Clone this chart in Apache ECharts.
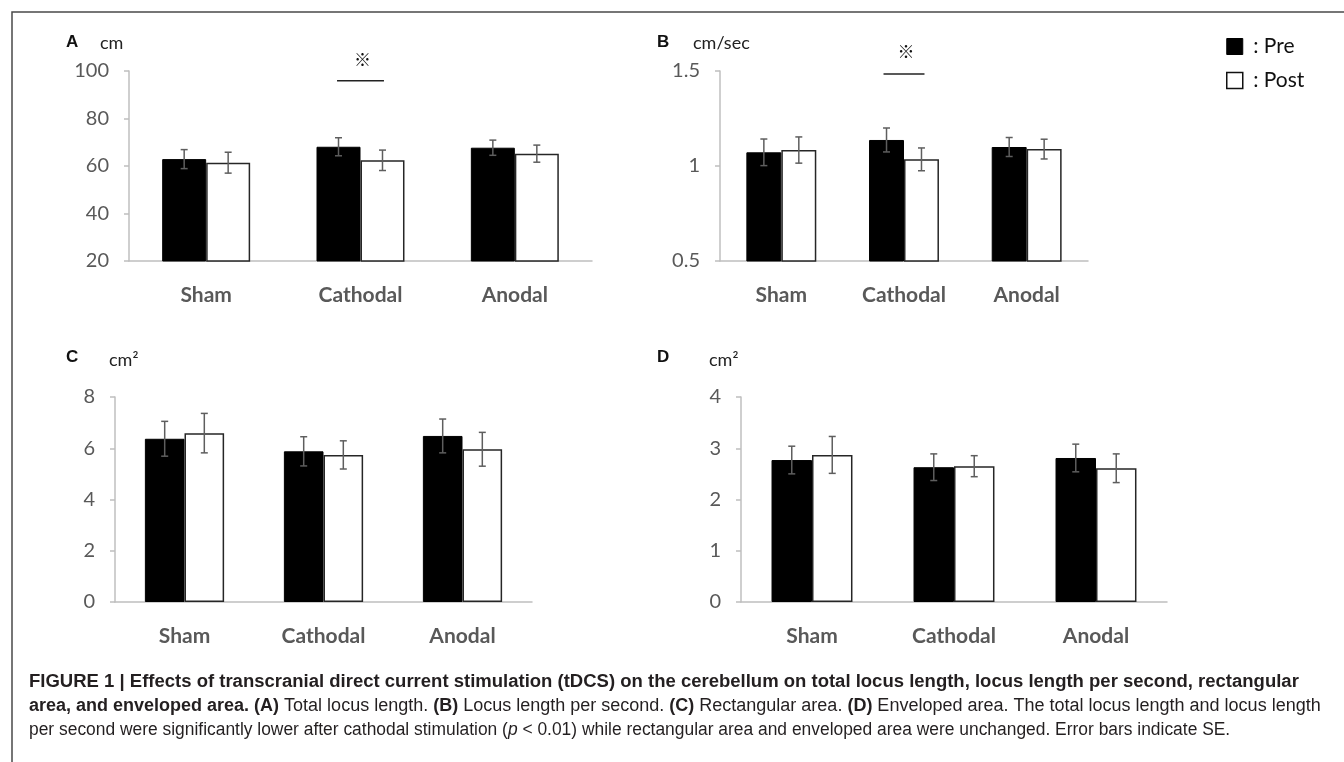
<!DOCTYPE html>
<html><head><meta charset="utf-8">
<script src="https://cdn.jsdelivr.net/npm/echarts@6/dist/echarts.min.js"></script>
<style>html,body{margin:0;padding:0;background:#fff}#c{width:1344px;height:762px}</style>
</head><body><div id="c"></div><script>
const categories = ['Sham', 'Cathodal', 'Anodal'];
const seriesNames = ['Pre', 'Post'];
// (A) Total locus length, cm
const preA = [62.9, 68.1, 67.7];
const postA = [61.4, 62.4, 65.2];
const preErrA = [4.0, 3.8, 3.2];
const postErrA = [4.4, 4.3, 3.6];
const ticksA = [20, 40, 60, 80, 100];
// (B) Locus length per second, cm/sec
const preB = [1.072, 1.137, 1.100];
const postB = [1.084, 1.035, 1.089];
const preErrB = [0.070, 0.063, 0.050];
const postErrB = [0.069, 0.060, 0.052];
const ticksB = [0.5, 1, 1.5];
// (C) Rectangular area, cm2
const preC = [6.37, 5.88, 6.48];
const postC = [6.59, 5.74, 5.96];
const preErrC = [0.68, 0.57, 0.66];
const postErrC = [0.77, 0.55, 0.66];
const ticksC = [0, 2, 4, 6, 8];
// (D) Enveloped area, cm2
const preD = [2.77, 2.63, 2.81];
const postD = [2.87, 2.65, 2.61];
const preErrD = [0.27, 0.26, 0.27];
const postErrD = [0.36, 0.205, 0.28];
const ticksD = [0, 1, 2, 3, 4];
// significance bars: [category index, value of bar line]
const sigA = [[1, 95.9]];
const sigB = [[1, 1.484]];
const panelLetters = ['A', 'B', 'C', 'D'];
const unitLabels = ['cm', 'cm/sec', 'cm²', 'cm²'];
const captionLines = [
  'FIGURE 1 | Effects of transcranial direct current stimulation (tDCS) on the cerebellum on total locus length, locus length per second, rectangular',
  '{b|area, and enveloped area. (A)} Total locus length. {b|(B)} Locus length per second. {b|(C)} Rectangular area. {b|(D)} Enveloped area. The total locus length and locus length',
  'per second were significantly lower after cathodal stimulation ({i|p} < 0.01) while rectangular area and enveloped area were unchanged. Error bars indicate SE.'
];

const GAP = 0.43;
const ERR = '#5e5e5e';
const AXIS = '#bfbfbf';
const LABEL = '#595959';

const panels = [
  { grid: {left: 129, top: 71, width: 463, height: 190}, pre: preA, post: postA, pe: preErrA, qe: postErrA, ticks: ticksA, sig: sigA, sigHalf: 0.152, sigDy: 21 },
  { grid: {left: 720, top: 71, width: 368, height: 190}, pre: preB, post: postB, pe: preErrB, qe: postErrB, ticks: ticksB, sig: sigB, sigHalf: 0.167, sigDy: 22 },
  { grid: {left: 115, top: 397, width: 417, height: 205}, pre: preC, post: postC, pe: preErrC, qe: postErrC, ticks: ticksC, sig: null },
  { grid: {left: 741, top: 397, width: 426, height: 205}, pre: preD, post: postD, pe: preErrD, qe: postErrD, ticks: ticksD, sig: null }
];

function errSeries(gi, vals, errs, side) {
  return {
    type: 'custom', xAxisIndex: gi, yAxisIndex: gi, z: 5, silent: true,
    data: vals.map((v, i) => [i, v, errs[i]]),
    encode: {x: 0, y: 1},
    renderItem(params, api) {
      const i = api.value(0), v = api.value(1), e = api.value(2);
      const band = api.size([1, 0])[0];
      const off = side * band * (1 - GAP) / 4;
      const top = api.coord([i, v + e]);
      const bot = api.coord([i, v - e]);
      const x = top[0] + off;
      const cap = 3.5;
      const st = {stroke: ERR, lineWidth: 1.5};
      return {type: 'group', children: [
        {type: 'line', shape: {x1: x, y1: top[1], x2: x, y2: bot[1]}, style: st},
        {type: 'line', shape: {x1: x - cap, y1: top[1], x2: x + cap, y2: top[1]}, style: st},
        {type: 'line', shape: {x1: x - cap, y1: bot[1], x2: x + cap, y2: bot[1]}, style: st}
      ]};
    }
  };
}
function sigSeries(gi, data, half, dy) {
  return {
    type: 'custom', xAxisIndex: gi, yAxisIndex: gi, z: 6, silent: true, clip: false,
    data: data, encode: {x: 0, y: 1},
    renderItem(params, api) {
      const p = api.coord([api.value(0), api.value(1)]);
      const band = api.size([1, 0])[0];
      const h = band * half;
      return {type: 'group', children: [
        {type: 'line', shape: {x1: p[0] - h, y1: p[1], x2: p[0] + h, y2: p[1]}, style: {stroke: '#222', lineWidth: 1.5}},
        {type: 'text', x: p[0] + 2, y: p[1] - dy, style: {text: '※', fill: '#111', font: 'bold 17px "Noto Sans CJK JP"', align: 'center', verticalAlign: 'middle'}}
      ]};
    }
  };
}

const grids = [], xAxes = [], yAxes = [], series = [];
panels.forEach((p, gi) => {
  grids.push(p.grid);
  xAxes.push({
    type: 'category', gridIndex: gi, data: categories,
    axisLine: {lineStyle: {color: AXIS, width: 1.5}},
    axisTick: {show: false},
    axisLabel: {color: LABEL, fontFamily: 'Lato', fontWeight: 'bold', fontSize: 21, margin: 24}
  });
  const t = p.ticks;
  yAxes.push({
    type: 'value', gridIndex: gi, min: t[0], max: t[t.length - 1], interval: t[1] - t[0],
    axisLine: {show: true, lineStyle: {color: AXIS, width: 1.5}},
    axisTick: {show: true, length: 5, lineStyle: {color: AXIS, width: 1.5}},
    splitLine: {show: false},
    axisLabel: {color: LABEL, fontFamily: 'Lato', fontSize: 20, margin: 20}
  });
  series.push({
    type: 'bar', name: seriesNames[0], xAxisIndex: gi, yAxisIndex: gi, data: p.pre,
    barGap: '0%', barCategoryGap: (GAP * 100) + '%',
    itemStyle: {color: '#000', borderColor: '#000', borderWidth: 1}
  });
  series.push({
    type: 'bar', name: seriesNames[1], xAxisIndex: gi, yAxisIndex: gi, data: p.post,
    barGap: '0%', barCategoryGap: (GAP * 100) + '%',
    itemStyle: {color: '#fff', borderColor: '#262626', borderWidth: 1.5}
  });
  series.push(errSeries(gi, p.pre, p.pe, -1));
  series.push(errSeries(gi, p.post, p.qe, 1));
  if (p.sig) series.push(sigSeries(gi, p.sig, p.sigHalf, p.sigDy));
});

const letterPos = [[66, 42], [657, 42], [66, 357], [657, 357]];
const unitPos = [[100, 43], [693, 43], [109, 360], [709, 360]];
const graphics = [
  {type: 'polyline', shape: {points: [[12, 762], [12, 12], [1344, 12]]}, style: {stroke: '#4a4a4a', lineWidth: 1.5, fill: null}}
];
panelLetters.forEach((L, i) => {
  graphics.push({type: 'text', x: letterPos[i][0], y: letterPos[i][1], style: {text: L, font: 'bold 17px "Liberation Sans"', fill: '#111', verticalAlign: 'middle'}});
  graphics.push({type: 'text', x: unitPos[i][0], y: unitPos[i][1], style: {text: unitLabels[i], font: '18px Lato', fill: '#222', verticalAlign: 'middle'}});
});
const capSize = 18;
const capFont = capSize + 'px "Liberation Sans"';
const capFill = '#231f20';
const capY = [682, 706, 730];
const capScale = [1.028, 1.0, 0.967];
const capRich = {
  b: {fontWeight: 'bold', fontFamily: 'Liberation Sans', fontSize: capSize, fill: capFill},
  i: {fontStyle: 'italic', fontFamily: 'Liberation Sans', fontSize: capSize, fill: capFill}
};
captionLines.forEach((txt, k) => {
  graphics.push({type: 'text', x: 29, y: capY[k], scaleX: capScale[k], style: {
    text: txt, font: (k === 0 ? 'bold ' : '') + capFont, fill: capFill, verticalAlign: 'middle', rich: capRich}});
});

const chart = echarts.init(document.getElementById('c'), null, {renderer: 'canvas'});
chart.setOption({
  animation: false,
  backgroundColor: '#fff',
  grid: grids, xAxis: xAxes, yAxis: yAxes, series: series,
  legend: {
    data: [
      {name: 'Pre', icon: 'rect', itemStyle: {color: '#000', borderColor: '#000', borderWidth: 1}},
      {name: 'Post', icon: 'rect', itemStyle: {color: '#fff', borderColor: '#111', borderWidth: 1.5}}
    ],
    orient: 'vertical', left: 1221, top: 31, itemWidth: 16, itemHeight: 16, itemGap: 13,
    formatter: n => ' : ' + n,
    textStyle: {fontFamily: 'Lato', fontSize: 21, color: '#111'},
    selectedMode: false
  },
  graphic: graphics
});
</script></body></html>
